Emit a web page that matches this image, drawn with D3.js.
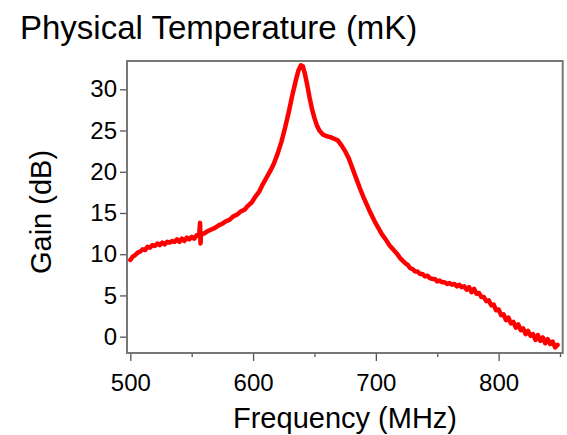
<!DOCTYPE html>
<html>
<head>
<meta charset="utf-8">
<script src="https://cdn.jsdelivr.net/npm/d3@7"></script>
<style>
  body { margin: 0; background: #fff; }
  svg { display: block; font-family: "Liberation Sans", Arial, sans-serif; }
</style>
</head>
<body>
<svg id="chart"></svg>
<script>
const title = "Physical Temperature (mK)";
const xLabel = "Frequency (MHz)";
const yLabel = "Gain (dB)";

const xTicks = [500, 600, 700, 800];
const xMinorTicks = [550, 650, 750, 850];
const yTicks = [0, 5, 10, 15, 20, 25, 30];

// frequency (MHz) and gain (dB)
const freq = [
  500, 502, 504, 506, 508, 510, 512, 514, 516, 518, 520, 522, 524, 526, 528, 530, 532, 534, 536,
  538, 540, 542, 544, 546, 548, 550, 552, 554, 556, 556.8, 557.2, 557.6, 560, 563, 566, 569,
  572, 575, 578, 581, 584, 587, 590, 593, 596, 599, 602, 605, 608, 611, 614, 617, 620, 623,
  626, 629, 632, 635, 637, 639, 640.5, 642, 644, 646, 648, 650, 652, 654, 657, 660, 663, 666,
  669, 672, 675, 678, 681, 684, 687, 690, 693, 696, 699, 702, 705, 708, 711, 714, 717, 720,
  722, 724, 726, 728, 730, 732, 734, 736, 738, 740, 742, 744, 746, 748, 750, 752, 754, 756,
  758, 760, 762, 764, 766, 768, 770, 772, 774, 776, 778, 780, 782, 784, 786, 788, 790, 792,
  794, 796, 798, 800, 802, 804, 806, 808, 810, 812, 814, 816, 818, 820, 822, 824, 826, 828,
  830, 832, 834, 836, 838, 840, 842, 844, 846, 848
];
const gain = [
  9.3, 9.7, 9.9, 10.2, 10.3, 10.6, 10.5, 10.9, 10.8, 11.1, 11.0, 11.3, 11.1, 11.4, 11.2, 11.5, 11.4, 11.6, 11.5,
  11.8, 11.5, 11.9, 11.6, 12.0, 11.8, 12.1, 11.9, 12.3, 12.2, 13.8, 11.3, 12.5, 12.5, 12.8, 13.0, 13.2,
  13.5, 13.7, 14.0, 14.2, 14.6, 14.8, 15.2, 15.4, 15.9, 16.3, 17.0, 17.6, 18.5, 19.3, 20.1, 21.0, 22.2, 23.6,
  25.3, 27.2, 29.3, 31.2, 32.3, 32.9, 32.8, 32.0, 30.6, 29.0, 27.6, 26.5, 25.6, 25.0, 24.5, 24.3, 24.2, 24.0,
  23.8, 23.2, 22.5, 21.6, 20.4, 19.2, 18.0, 16.9, 15.9, 14.9, 14.0, 13.2, 12.4, 11.8, 11.1, 10.6, 10.1, 9.5,
  9.2, 8.9, 8.7, 8.3, 8.2, 7.9, 7.9, 7.6, 7.6, 7.3, 7.4, 7.1, 7.0, 7.0, 6.7, 6.8, 6.6, 6.6,
  6.4, 6.5, 6.3, 6.4, 6.1, 6.3, 6.0, 6.1, 5.7, 6.0, 5.4, 5.8, 5.2, 5.3, 4.8, 4.8, 4.3, 4.4,
  3.8, 3.9, 3.2, 3.3, 2.6, 2.7, 2.0, 2.3, 1.6, 1.8, 1.1, 1.5, 0.8, 1.0, 0.3, 0.7, 0.1, 0.3,
  -0.4, 0.2, -0.5, -0.1, -0.8, -0.3, -0.9, -0.6, -1.3, -1.0
];

const width = 567;
const height = 435;
const margin = { top: 61, right: 4.3, bottom: 82, left: 127 };

const svg = d3.select("#chart")
  .attr("width", width)
  .attr("height", height);

const x = d3.scaleLinear()
  .domain([497.3, 852.2])
  .range([margin.left, width - margin.right]);

const y = d3.scaleLinear()
  .domain([-1.98, 33.43])
  .range([height - margin.bottom, margin.top]);

const axisColor = "#555";

// title
svg.append("text")
  .attr("x", 20)
  .attr("y", 39)
  .attr("font-size", 33)
  .attr("fill", "#000")
  .text(title);

// x axis (major + minor ticks)
const xAxis = svg.append("g")
  .attr("transform", `translate(0,${height - margin.bottom})`)
  .call(d3.axisBottom(x).tickValues(xTicks).tickSize(8).tickPadding(13).tickFormat(d3.format("d")));

svg.append("g")
  .attr("transform", `translate(0,${height - margin.bottom})`)
  .call(d3.axisBottom(x).tickValues(xMinorTicks).tickSize(4).tickFormat(""))
  .call((g) => g.select(".domain").remove())
  .selectAll("line").attr("stroke", axisColor).attr("stroke-width", 1.3);

const yAxis = svg.append("g")
  .attr("transform", `translate(${margin.left},0)`)
  .call(d3.axisLeft(y).tickValues(yTicks).tickSize(7).tickPadding(3));

[xAxis, yAxis].forEach((g) => {
  g.select(".domain").remove();
  g.selectAll("line").attr("stroke", axisColor).attr("stroke-width", 1.3);
  g.selectAll("text").attr("font-size", 24).attr("fill", "#000")
    .attr("font-family", "'Liberation Sans', Arial, sans-serif");
});

// frame
svg.append("rect")
  .attr("x", margin.left)
  .attr("y", margin.top)
  .attr("width", width - margin.right - margin.left)
  .attr("height", height - margin.bottom - margin.top)
  .attr("fill", "none")
  .attr("stroke", "#777")
  .attr("stroke-width", 2);

// curve
const points = freq.map((f, i) => [f, gain[i]]);
const line = d3.line()
  .x((d) => x(d[0]))
  .y((d) => y(d[1]));

svg.append("path")
  .datum(points)
  .attr("fill", "none")
  .attr("stroke", "#ff0000")
  .attr("stroke-width", 4.5)
  .attr("stroke-linejoin", "round")
  .attr("stroke-linecap", "round")
  .attr("d", line);

// axis titles
svg.append("text")
  .attr("x", 345)
  .attr("y", 428)
  .attr("text-anchor", "middle")
  .attr("font-size", 29)
  .text(xLabel);

svg.append("text")
  .attr("transform", "translate(51,212) rotate(-90)")
  .attr("text-anchor", "middle")
  .attr("font-size", 29)
  .text(yLabel);
</script>
</body>
</html>
